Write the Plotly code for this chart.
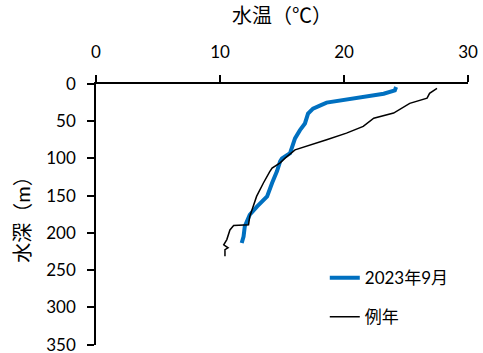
import plotly.graph_objects as go

# 2023年9月 observation profile: water temperature (°C) vs depth (m)
temp_2023 = [24.2, 24.1, 23.2, 22.1, 21.0, 19.7, 18.6, 18.1, 17.5, 17.1, 16.85,
             16.45, 16.05, 15.65, 15.0, 14.85, 14.6, 14.2, 13.8, 13.0, 12.4,
             12.0, 11.9, 11.75]
depth_2023 = [4, 8.5, 13, 16, 19.7, 22.8, 25, 28.6, 33, 39.8, 53,
              62, 73, 93, 100, 104, 117, 133, 151, 164.5, 175.6,
              191, 205, 213.5]

# 例年 (normal year) profile
temp_normal = [27.5, 26.9, 26.7, 25.3, 24.0, 22.4, 21.55, 20.2, 18.6, 17.0, 16.05,
               15.25, 14.85, 14.2, 14.0, 13.5, 12.95, 12.4, 12.3, 11.1, 10.8,
               10.55, 10.3, 10.65, 10.4, 10.4]
depth_normal = [6, 12.5, 19, 26, 39, 46, 57, 66, 75, 83, 88.5,
                99.6, 106, 113, 118, 133, 151, 178, 189, 190, 196,
                209, 216, 220, 222.5, 231.5]

x_ticks = [0, 10, 20, 30]
y_ticks = [0, 50, 100, 150, 200, 250, 300, 350]

FONT = "Lato, 'Noto Sans CJK JP', sans-serif"

fig = go.Figure()
fig.add_trace(go.Scatter(x=temp_2023, y=depth_2023, mode="lines", name="2023年9月",
                         legendgroup="a",
                         line=dict(color="#0070C0", width=4)))
fig.add_trace(go.Scatter(x=temp_normal, y=depth_normal, mode="lines", name="例年",
                         legendgroup="b",
                         line=dict(color="#000000", width=1.5)))

fig.update_layout(
    width=483, height=353,
    margin=dict(l=96, r=15, t=84, b=8),
    paper_bgcolor="white", plot_bgcolor="white",
    font=dict(family=FONT, size=17, color="#000000"),
    showlegend=True,
    legend=dict(x=0.615, y=0.325, xanchor="left", yanchor="top",
                bgcolor="rgba(0,0,0,0)", font=dict(size=17),
                traceorder="grouped", tracegroupgap=14),
    xaxis=dict(
        side="top", range=[0, 30], tickvals=x_ticks,
        showline=True, linecolor="#000000", linewidth=1.5,
        ticks="outside", ticklen=7, tickwidth=1.5, tickcolor="#000000",
        ticklabelstandoff=10, automargin=False,
        showgrid=False, zeroline=False,
        title=dict(text="水温（℃）", standoff=12),
    ),
    yaxis=dict(
        range=[350.6, 0], tickvals=y_ticks,
        showline=True, linecolor="#000000", linewidth=1.5,
        ticks="outside", ticklen=7, tickwidth=1.5, tickcolor="#000000",
        ticklabelstandoff=8, ticklabeloverflow="allow", automargin=False,
        showgrid=False, zeroline=False,
        title=dict(text="水深（m）", standoff=10),
    ),
)

fig.write_html("out.html")
